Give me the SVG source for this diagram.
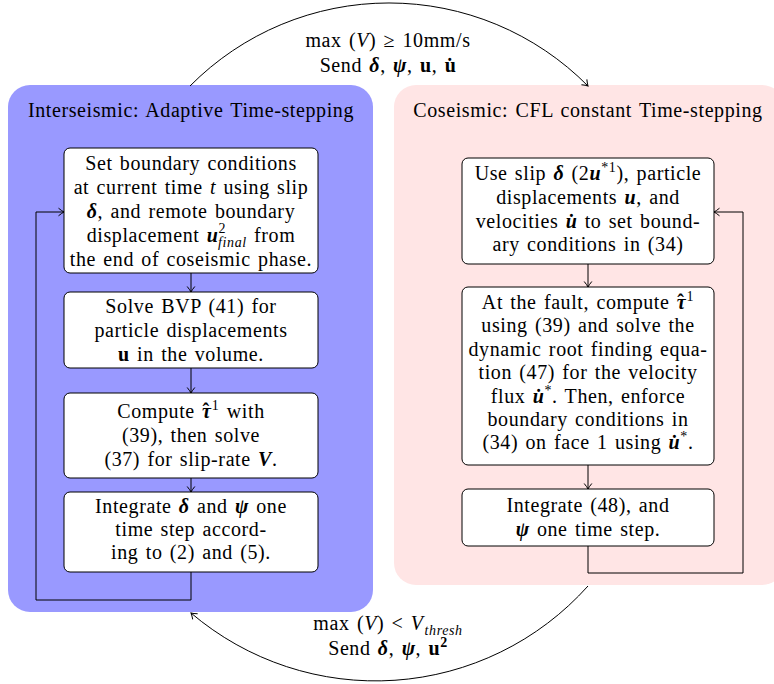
<svg xmlns="http://www.w3.org/2000/svg" width="774" height="684" viewBox="0 0 774 684">
<defs>
<marker id="arr" markerUnits="userSpaceOnUse" markerWidth="12" markerHeight="12" viewBox="-8 -6 10 12" refX="0" refY="0" orient="auto">
<path d="M -5.5 -3.8 Q -2 -1 0 0 Q -2 1 -5.5 3.8" fill="none" stroke="#000" stroke-width="1"/>
</marker>
</defs>
<style>
text{font-family:"Liberation Serif","Times New Roman",serif;font-size:20px;fill:#000;text-anchor:middle;letter-spacing:0.6px;word-spacing:1.7px}
.i{font-style:italic}
.b{font-weight:bold}
.bi{font-weight:bold;font-style:italic}
.s{font-size:14px}
.box{fill:#fff;stroke:#000;stroke-width:1}
.ln{fill:none;stroke:#000;stroke-width:1}
</style>
<rect width="774" height="684" fill="#fff"/>
<g id="interseismic">
<rect x="8" y="85" width="365" height="527" rx="22" fill="#9999FF"/>
<text x="191" y="117">Interseismic: Adaptive Time-stepping</text>
</g>
<g id="coseismic">
<rect x="394" y="85" width="390" height="500" rx="22" fill="#FFE5E5"/>
<text x="588" y="117">Coseismic: CFL constant Time-stepping</text>
</g>
<g id="connectors">
<path class="ln" d="M 190 86 A 280 280 0 0 1 588 86" marker-end="url(#arr)"/>
<path class="ln" d="M 588 586 A 285 285 0 0 1 191 613" marker-end="url(#arr)"/>
<path class="ln" d="M 191 273 V 292" marker-end="url(#arr)"/>
<path class="ln" d="M 191 368 V 393" marker-end="url(#arr)"/>
<path class="ln" d="M 191 478 V 492" marker-end="url(#arr)"/>
<path class="ln" d="M 191 572 V 600 H 36 V 212 H 64" marker-end="url(#arr)"/>
<path class="ln" d="M 588 264 V 287" marker-end="url(#arr)"/>
<path class="ln" d="M 588 465 V 489" marker-end="url(#arr)"/>
<path class="ln" d="M 588 546 V 573 H 743 V 212 H 714" marker-end="url(#arr)"/>
</g>
<g id="label-top">
<text x="388" y="47">max (<tspan class="i">V</tspan>) ≥ 10mm/s</text>
<text x="388" y="72">Send <tspan class="bi">δ</tspan>, <tspan class="bi">ψ</tspan>, <tspan class="b">u</tspan>, <tspan class="b">u̇</tspan></text>
</g>
<g id="label-bottom">
<text x="388" y="630">max (<tspan class="i">V</tspan>) &lt; <tspan class="i">V</tspan><tspan class="i s" dx="1" dy="5">thresh</tspan></text>
<text x="388" y="655">Send <tspan class="bi">δ</tspan>, <tspan class="bi">ψ</tspan>, <tspan class="b">u</tspan><tspan class="b s" dy="-8">2</tspan></text>
</g>
<g id="set-bc">
<rect class="box" x="64" y="148" width="254" height="125" rx="6"/>
<text x="191" y="170">Set boundary conditions</text>
<text x="191" y="194">at current time <tspan class="i">t</tspan> using slip</text>
<text x="191" y="218"><tspan class="bi">δ</tspan>, and remote boundary</text>
<text x="191" y="242">displacement <tspan class="bi">u</tspan><tspan class="s" dy="-9">2</tspan><tspan class="s i" dx="-8" dy="14">final</tspan><tspan dy="-5"> from</tspan></text>
<text x="191" y="266">the end of coseismic phase.</text>
</g>
<g id="solve-bvp">
<rect class="box" x="64" y="292" width="254" height="76" rx="6"/>
<text x="191" y="313">Solve BVP (41) for</text>
<text x="191" y="337">particle displacements</text>
<text x="191" y="361"><tspan class="b">u</tspan> in the volume.</text>
</g>
<g id="compute-tau">
<rect class="box" x="64" y="393" width="254" height="85" rx="6"/>
<text x="191" y="418">Compute <tspan class="bi">τ</tspan><tspan class="b" dx="-9">ˆ</tspan><tspan class="s" dx="2" dy="-8">1</tspan><tspan dy="8"> with</tspan></text>
<text x="191" y="442">(39), then solve</text>
<text x="191" y="466">(37) for slip-rate <tspan class="bi">V</tspan>.</text>
</g>
<g id="integrate-left">
<rect class="box" x="64" y="492" width="254" height="80" rx="6"/>
<text x="191" y="513">Integrate <tspan class="bi">δ</tspan> and <tspan class="bi">ψ</tspan> one</text>
<text x="191" y="536">time step accord-</text>
<text x="191" y="559">ing to (2) and (5).</text>
</g>
<g id="use-slip">
<rect class="box" x="462" y="158" width="252" height="106" rx="6"/>
<text x="588" y="180">Use slip <tspan class="bi">δ</tspan> (2<tspan class="bi">u</tspan><tspan class="s" dy="-8">*1</tspan><tspan dy="8">), particle</tspan></text>
<text x="588" y="204">displacements <tspan class="bi">u</tspan>, and</text>
<text x="588" y="228">velocities <tspan class="bi">u̇</tspan> to set bound-</text>
<text x="588" y="251">ary conditions in (34)</text>
</g>
<g id="fault-compute">
<rect class="box" x="462" y="287" width="252" height="178" rx="6"/>
<text x="588" y="309">At the fault, compute <tspan class="bi">τ</tspan><tspan class="b" dx="-9">ˆ</tspan><tspan class="s" dx="2" dy="-8">1</tspan></text>
<text x="588" y="332">using (39) and solve the</text>
<text x="588" y="356">dynamic root finding equa-</text>
<text x="588" y="379">tion (47) for the velocity</text>
<text x="588" y="403">flux <tspan class="bi">u̇</tspan><tspan class="s" dy="-8">*</tspan><tspan dy="8">. Then, enforce</tspan></text>
<text x="588" y="426">boundary conditions in</text>
<text x="588" y="449">(34) on face 1 using <tspan class="bi">u̇</tspan><tspan class="s" dy="-8">*</tspan><tspan dy="8">.</tspan></text>
</g>
<g id="integrate-right">
<rect class="box" x="462" y="489" width="252" height="57" rx="6"/>
<text x="588" y="512">Integrate (48), and</text>
<text x="588" y="536"><tspan class="bi">ψ</tspan> one time step.</text>
</g>
</svg>
